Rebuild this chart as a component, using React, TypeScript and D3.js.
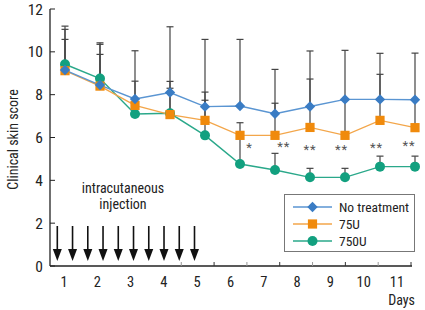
import React from "react";
import * as d3 from "d3";

const days = [1, 2, 3, 4, 5, 6, 7, 8, 9, 10, 11];
const noTreatment = [9.15, 8.45, 7.8, 8.1, 7.44, 7.47, 7.11, 7.45, 7.78, 7.78, 7.76];
const noTreatmentUpper = [11.05, 10.35, 10.05, 11.17, 10.58, 10.58, 9.18, 10.04, 10.07, 9.93, 9.94];
const u75 = [9.12, 8.4, 7.5, 7.07, 6.8, 6.1, 6.1, 6.47, 6.1, 6.8, 6.46];
const u75Upper = [10.58, 9.88, 8.63, 8.62, 8.12, 6.69, 7.6, 8.73, 7.75, 8.95, 7.75];
const u750 = [9.42, 8.75, 7.1, 7.13, 6.1, 4.76, 4.48, 4.14, 4.14, 4.64, 4.64];
const u750Upper = [11.2, 10.42, 7.5, 8.3, 7.74, 6.05, 5.26, 4.56, 4.56, 5.13, 5.13];
const yTicks = [0, 2, 4, 6, 8, 10, 12];
const dayLabels = ["1", "2", "3", "4", "5", "6", "7", "8", "9", "10", "11"];
const injections = [1, 2, 3, 4, 5, 6, 7, 8, 9, 10];
const stars = [
  { at: 6.27, text: "*" },
  { at: 7.25, text: "**" },
  { at: 8.0, text: "**" },
  { at: 8.9, text: "**" },
  { at: 9.9, text: "**" },
  { at: 10.83, text: "**" },
];
const starLevel = [5.3, 5.38, 5.22, 5.22, 5.33, 5.4];
const legendNames = ["No treatment", "75U", "750U"];

const FONT = "'Liberation Sans Narrow', 'Arial Narrow', 'Roboto Condensed', 'Liberation Sans', sans-serif";

const series = [
  { name: legendNames[0], values: noTreatment, upper: noTreatmentUpper, color: "#3a7cc4", line: "#5a95d2", shape: "diamond" },
  { name: legendNames[1], values: u75, upper: u75Upper, color: "#f08a0c", line: "#f3a64a", shape: "square" },
  { name: legendNames[2], values: u750, upper: u750Upper, color: "#12a07f", line: "#2aa88a", shape: "circle" },
];

function Marker({ shape, x, y, color }: { shape: string; x: number; y: number; color: string }) {
  if (shape === "diamond") {
    const s = 5.2;
    return <path d={`M${x},${y - s}L${x + s},${y}L${x},${y + s}L${x - s},${y}Z`} fill={color} />;
  }
  if (shape === "square") {
    const s = 4.6;
    return <rect x={x - s} y={y - s} width={2 * s} height={2 * s} fill={color} />;
  }
  return <circle cx={x} cy={y} r={5} fill={color} />;
}

export default function App() {
  const W = 425, H = 310;
  const y = d3.scaleLinear().domain([0, 12]).range([266, 9]);
  const x = d3.scaleLinear().domain([1, 11]).range([65, 415]);
  const xLabel = d3.scaleLinear().domain([1, 11]).range([64, 397]);
  const xTick = d3.scaleLinear().domain([0, 11]).range([50, 411]);
  const xArrow = d3.scalePoint<number>().domain(injections).range([57.3, 194.5]);
  const line = d3.line<number>().x((_, i) => x(days[i])).y((v) => y(v));

  return (
    <svg width={W} height={H} style={{ position: "absolute", left: 0, top: 0, background: "#fff" }} fontFamily={FONT}>
      {/* axes */}
      <line x1={50} x2={50} y1={y(12)} y2={y(0)} stroke="#222" strokeWidth={1.3} />
      <line x1={50} x2={412} y1={y(0)} y2={y(0)} stroke="#222" strokeWidth={1.3} />
      {yTicks.map((t) => (
        <g key={t}>
          <line x1={50} x2={55} y1={y(t)} y2={y(t)} stroke="#222" strokeWidth={1} />
          <text x={43} y={y(t)} dy="0.36em" textAnchor="end" fontSize={15.5} fill="#222">{t}</text>
        </g>
      ))}
      {d3.range(4, 12).map((k) => (
        <line key={k} x1={xTick(k)} x2={xTick(k)} y1={y(0)} y2={y(0) - 4} stroke={k % 2 === 0 ? "#999" : "#333"} strokeWidth={1} />
      ))}
      {dayLabels.map((lab, i) => (
        <text key={lab} x={xLabel(days[i])} y={287} textAnchor="middle" fontSize={14.5} fill="#222">{lab}</text>
      ))}
      <text x={415} y={305} textAnchor="end" fontSize={14} fill="#222">Days</text>
      <text transform={`translate(18,${y(6) + 2}) rotate(-90)`} textAnchor="middle" fontSize={14} fill="#222">Clinical skin score</text>

      {/* injection arrows */}
      <text x={123} y={193} textAnchor="middle" fontSize={14} fill="#222">intracutaneous</text>
      <text x={123} y={209} textAnchor="middle" fontSize={14} fill="#222">injection</text>
      {injections.map((k) => {
        const ax = xArrow(k) as number;
        return (
          <g key={k}>
            <line x1={ax} x2={ax} y1={226} y2={252} stroke="#111" strokeWidth={1.6} />
            <path d={`M${ax - 4.5},${249}L${ax + 4.5},${249}L${ax},${261}Z`} fill="#111" />
          </g>
        );
      })}

      {/* error bars */}
      {series.map((s) =>
        s.values.map((v, i) => {
          const cx = x(days[i]);
          const top = y(s.upper[i]);
          return (
            <g key={s.name + i}>
              <line x1={cx} x2={cx} y1={y(v)} y2={top} stroke="#444" strokeWidth={1.2} />
              <line x1={cx - 3.5} x2={cx + 3.5} y1={top} y2={top} stroke="#444" strokeWidth={1.2} />
            </g>
          );
        })
      )}

      {/* lines */}
      {[...series].reverse().map((s) => (
        <path key={s.name} d={line(s.values) || ""} fill="none" stroke={s.line} strokeWidth={1.4} />
      ))}
      {[...series].reverse().map((s) =>
        s.values.map((v, i) => <Marker key={s.name + "m" + i} shape={s.shape} x={x(days[i])} y={y(v)} color={s.color} />)
      )}

      {/* significance */}
      {stars.map((st, i) => (
        <text key={i} x={x(st.at)} y={y(starLevel[i])} textAnchor="middle" fontSize={13} fill="#555" letterSpacing={1}>{st.text}</text>
      ))}

      {/* legend */}
      <rect x={284.5} y={194.5} width={130} height={57} fill="#fff" stroke="#777" strokeWidth={1} />
      {series.map((s, i) => {
        const ly = 207 + i * 17;
        return (
          <g key={s.name}>
            <line x1={293} x2={332} y1={ly} y2={ly} stroke={s.line} strokeWidth={1.4} />
            <Marker shape={s.shape} x={312.5} y={ly} color={s.color} />
            <text x={339} y={ly} dy="0.36em" fontSize={13.5} fill="#222">{s.name}</text>
          </g>
        );
      })}
    </svg>
  );
}
